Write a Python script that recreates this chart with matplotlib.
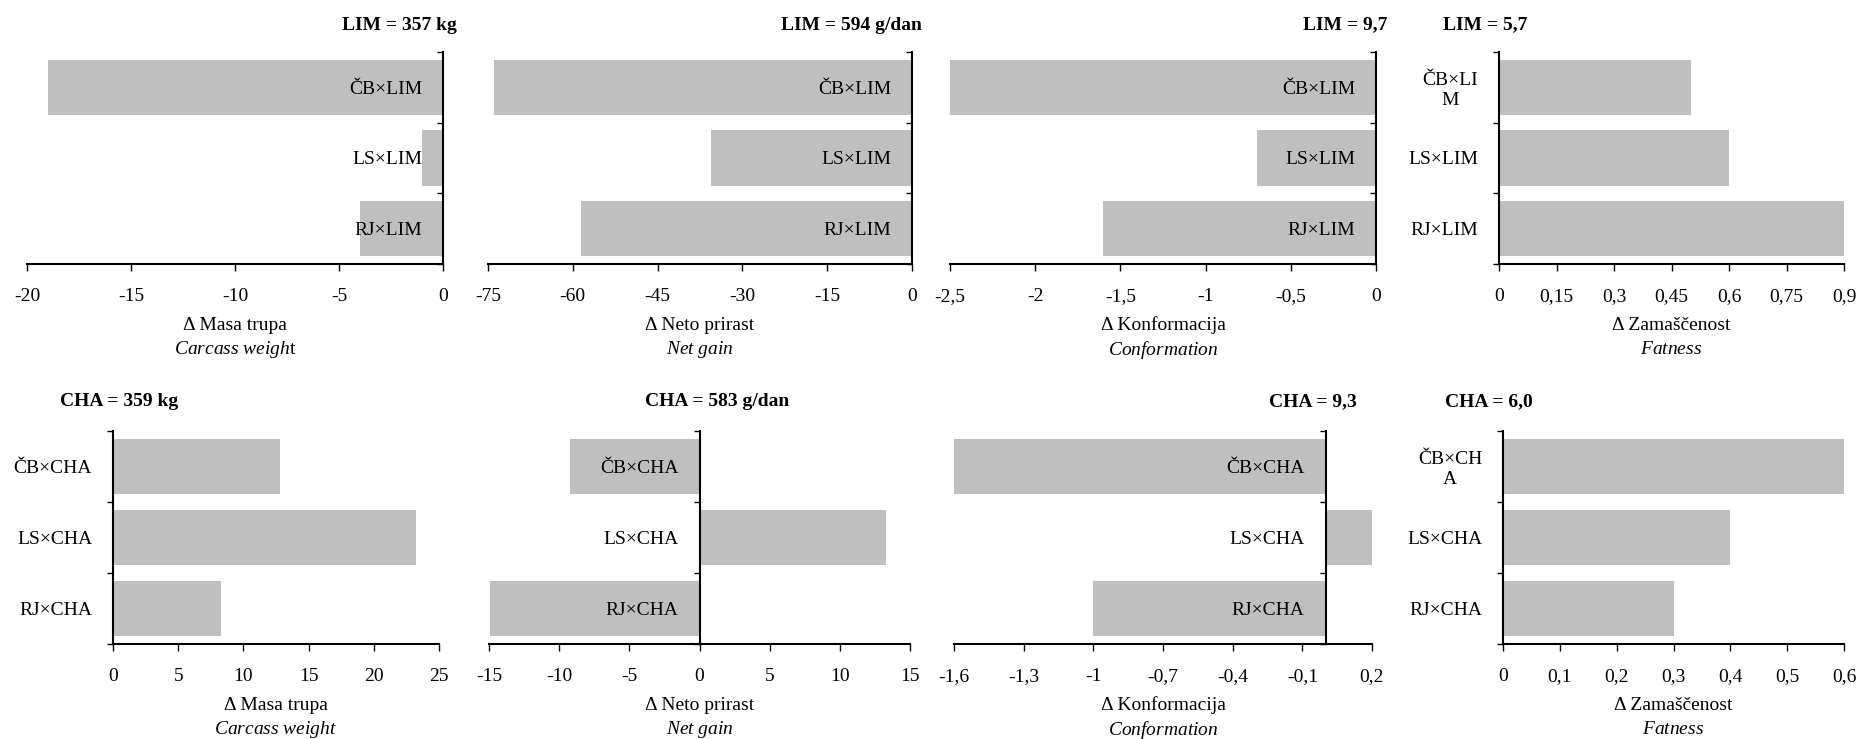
"""Crossbreed differences vs LIM / CHA sires: carcass weight, net gain, conformation, fatness."""
import matplotlib
matplotlib.use("Agg")
import matplotlib.pyplot as plt
import numpy as np

plt.rcParams["font.family"] = ["Liberation Serif", "DejaVu Serif"]
plt.rcParams["mathtext.fontset"] = "custom"
plt.rcParams["mathtext.rm"] = "Liberation Serif"
plt.rcParams["mathtext.it"] = "Liberation Serif:italic"

W, H = 1857, 739
FS = 14
BAR = "#bfbfbf"

# categories
lim_labels = ["ČB×LIM", "LS×LIM", "RJ×LIM"]
lim_labels_wrap = ["ČB×LI\nM", "LS×LIM", "RJ×LIM"]
cha_labels = ["ČB×CHA", "LS×CHA", "RJ×CHA"]
cha_labels_wrap = ["ČB×CH\nA", "LS×CHA", "RJ×CHA"]

# values (differences)
lim_masa = [-19, -1, -4]
lim_prirast = [-74, -35.5, -58.5]
lim_konf = [-2.5, -0.7, -1.6]
lim_zamas = [0.5, 0.6, 0.9]
cha_masa = [12.8, 23.2, 8.3]
cha_prirast = [-9.2, 13.3, -14.9]
cha_konf = [-1.6, 0.2, -1.0]
cha_zamas = [0.6, 0.4, 0.3]

# x ticks
ticks_lim_masa = [-20, -15, -10, -5, 0]
ticks_lim_prirast = [-75, -60, -45, -30, -15, 0]
ticks_lim_konf = [-2.5, -2, -1.5, -1, -0.5, 0]
ticks_lim_zamas = [0, 0.15, 0.3, 0.45, 0.6, 0.75, 0.9]
ticks_cha_masa = [0, 5, 10, 15, 20, 25]
ticks_cha_prirast = [-15, -10, -5, 0, 5, 10, 15]
ticks_cha_konf = [-1.6, -1.3, -1, -0.7, -0.4, -0.1, 0.2]
ticks_cha_zamas = [0, 0.1, 0.2, 0.3, 0.4, 0.5, 0.6]

titles = ["LIM = 357 kg", "LIM = 594 g/dan", "LIM = 9,7", "LIM = 5,7",
          "CHA = 359 kg", "CHA = 583 g/dan", "CHA = 9,3", "CHA = 6,0"]
label_sl = ["Δ Masa trupa", "Δ Neto prirast", "Δ Konformacija", "Δ Zamaščenost"]
label_en_top = [r"$\mathit{Carcass\ weigh}$t", r"$\mathit{Net\ gain}$",
                r"$\mathit{Conformation}$", r"$\mathit{Fatness}$"]
label_en_bot = [r"$\mathit{Carcass\ weight}$", r"$\mathit{Net\ gain}$",
                r"$\mathit{Conformation}$", r"$\mathit{Fatness}$"]


def fmt(v):
    s = f"{v:g}"
    return s.replace(".", ",")


def draw_panel(ax, labels, values, ticks):
    y = np.arange(len(values))
    ax.barh(y, values, height=0.78, color=BAR, zorder=1)
    ax.set_ylim(2.5, -0.5)
    ax.set_xlim(ticks[0], ticks[-1])
    for s in ["top", "right"]:
        ax.spines[s].set_visible(False)
    ax.spines["left"].set_position(("data", 0))
    ax.spines["left"].set_linewidth(1.5)
    ax.spines["bottom"].set_linewidth(1.5)
    ax.spines["left"].set_zorder(3)

    ax.set_yticks([-0.5, 0.5, 1.5, 2.5])
    ax.set_yticklabels([])
    ax.set_yticks(y, minor=True)
    ax.set_yticklabels(labels, minor=True, fontsize=FS)
    for lbl in ax.get_yticklabels(minor=True):
        lbl.set_multialignment("center")
    ax.tick_params(axis="y", which="major", direction="out", length=4, width=1)
    ax.tick_params(axis="y", which="minor", length=0, pad=15)

    ax.set_xticks(ticks)
    ax.set_xticklabels([fmt(t) for t in ticks], fontsize=FS)
    ax.tick_params(axis="x", direction="out", length=5, width=1, pad=12)


fig = plt.figure(figsize=(W / 100, H / 100), dpi=100)

# pixel boxes (x0, x1) for each column, per row
top_x = [(27, 443), (488, 912), (950, 1376), (1499, 1844)]
bot_x = [(113, 439), (489, 910), (954, 1372), (1503, 1844)]
top_y = (52, 264)
bot_y = (431, 644)

top_data = [(lim_labels, lim_masa, ticks_lim_masa),
            (lim_labels, lim_prirast, ticks_lim_prirast),
            (lim_labels, lim_konf, ticks_lim_konf),
            (lim_labels_wrap, lim_zamas, ticks_lim_zamas)]
bot_data = [(cha_labels, cha_masa, ticks_cha_masa),
            (cha_labels, cha_prirast, ticks_cha_prirast),
            (cha_labels, cha_konf, ticks_cha_konf),
            (cha_labels_wrap, cha_zamas, ticks_cha_zamas)]

title_x = [399, 851, 1345, 1485, 119, 717, 1313, 1489]
title_y = [25] * 4 + [402] * 4

for row, (xs, ys, data, en) in enumerate([(top_x, top_y, top_data, label_en_top),
                                          (bot_x, bot_y, bot_data, label_en_bot)]):
    for col in range(4):
        x0, x1 = xs[col]
        y0, y1 = ys
        ax = fig.add_axes([x0 / W, 1 - y1 / H, (x1 - x0) / W, (y1 - y0) / H])
        draw_panel(ax, *data[col])
        ax.annotate(label_sl[col], xy=(0.5, 0), xycoords="axes fraction",
                    xytext=(0, -61), textcoords="offset pixels",
                    ha="center", va="center", fontsize=FS)
        ax.annotate(en[col], xy=(0.5, 0), xycoords="axes fraction",
                    xytext=(0, -86), textcoords="offset pixels",
                    ha="center", va="center", fontsize=FS)

for i, t in enumerate(titles):
    fig.text(title_x[i] / W, 1 - title_y[i] / H, t, ha="center", va="center",
             fontsize=FS, fontweight="bold")

fig.savefig("out.png", dpi=100)
